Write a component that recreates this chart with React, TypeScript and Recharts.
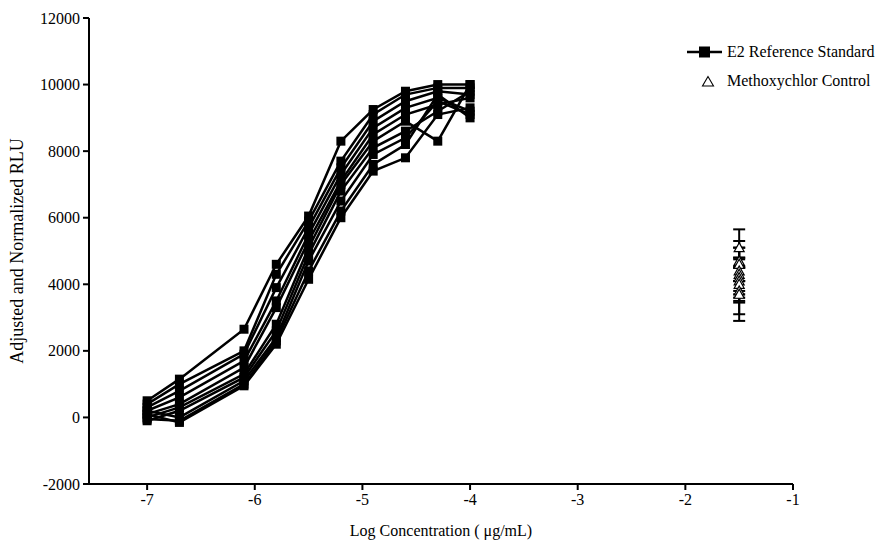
import { ComposedChart, Line, Scatter, ErrorBar, XAxis, YAxis, ZAxis } from 'recharts';

const logConc = [-7, -6.7, -6.1, -5.8, -5.5, -5.2, -4.9, -4.6, -4.3, -4.0];

// E2 reference standard runs (adjusted and normalized RLU)
const e2Run1 = [500, 1150, 2650, 4600, 6050, 8300, 9250, 9800, 10000, 10000];
const e2Run2 = [400, 1000, 2000, 4300, 5900, 7700, 9100, 9700, 9900, 9900];
const e2Run3 = [300, 800, 1900, 3900, 5700, 7500, 8900, 9500, 9800, 9700];
const e2Run4 = [200, 600, 1700, 3500, 5500, 7300, 8700, 9300, 9600, 9200];
const e2Run5 = [100, 400, 1500, 3300, 5300, 7100, 8500, 9100, 9400, 9600];
const e2Run6 = [0, 300, 1300, 2800, 5100, 7000, 8300, 8900, 8300, 10000];
const e2Run7 = [-100, 200, 1200, 2600, 4900, 6800, 8100, 8600, 9200, 9800];
const e2Run8 = [200, 0, 1100, 2400, 4700, 6500, 7900, 8400, 9500, 9100];
const e2Run9 = [-50, -100, 1000, 2300, 4400, 6200, 7600, 8200, 9700, 9000];
const e2Run10 = [100, -150, 950, 2200, 4150, 6000, 7400, 7800, 9100, 9300];

const e2Runs = [e2Run1, e2Run2, e2Run3, e2Run4, e2Run5, e2Run6, e2Run7, e2Run8, e2Run9, e2Run10];

const methoxyConc = -1.5;
const methoxyMeans = [5100, 4700, 4600, 4400, 4300, 4200, 4100, 4000, 3800, 3700];
const methoxyErrors = [550, 600, 500, 700, 500, 600, 650, 500, 700, 800];

const xTicks = [-7, -6, -5, -4, -3, -2, -1];
const yTicks = [-2000, 0, 2000, 4000, 6000, 8000, 10000, 12000];

const rows = logConc.map((x, i) => {
  const row: Record<string, number> = { x };
  e2Runs.forEach((run, r) => {
    row[`run${r}`] = run[i];
  });
  return row;
});

const methoxyData = methoxyMeans.map((y, i) => ({ x: methoxyConc, y, err: methoxyErrors[i] }));

const font = '"Liberation Serif", serif';

const xTick = (props: any) => {
  const { x, y, payload } = props;
  return (
    <text x={x} y={y + 13} textAnchor="middle" fill="#000" style={{ fontFamily: font, fontSize: 16 }}>
      {payload.value}
    </text>
  );
};

const yTick = (props: any) => {
  const { x, y, payload } = props;
  return (
    <text x={x - 1} y={y + 5.5} textAnchor="end" fill="#000" style={{ fontFamily: font, fontSize: 16 }}>
      {payload.value}
    </text>
  );
};

const squareDot = (props: any) => {
  const { cx, cy, index, dataKey } = props;
  if (cx == null || cy == null) return null;
  return <rect key={`${dataKey}-${index}`} x={cx - 4.5} y={cy - 4.5} width={9} height={9} fill="#000" />;
};

const triangle = (props: any) => {
  const { cx, cy } = props;
  return (
    <polygon
      points={`${cx},${cy - 5} ${cx - 5},${cy + 4} ${cx + 5},${cy + 4}`}
      fill="#fff"
      stroke="#000"
      strokeWidth={1.2}
    />
  );
};

function LegendBox() {
  return (
    <div
      style={{
        position: 'absolute',
        left: 686,
        top: 37,
        fontFamily: font,
        fontSize: 16,
        color: '#000',
        lineHeight: '29px',
        whiteSpace: 'nowrap',
      }}
    >
      <div style={{ display: 'flex', alignItems: 'center' }}>
        <svg width={37} height={12} style={{ marginRight: 4 }}>
          <line x1={1} y1={6} x2={36} y2={6} stroke="#000" strokeWidth={2.5} />
          <rect x={13} y={0.5} width={11} height={11} fill="#000" />
        </svg>
        <span>E2 Reference Standard</span>
      </div>
      <div style={{ display: 'flex', alignItems: 'center' }}>
        <svg width={37} height={12} style={{ marginRight: 4 }}>
          <polygon points="22,1.5 16.5,11 27.5,11" fill="#fff" stroke="#000" strokeWidth={1.1} />
        </svg>
        <span>Methoxychlor Control</span>
      </div>
    </div>
  );
}

export default function App() {
  return (
    <div
      style={{
        position: 'absolute',
        left: 0,
        top: 0,
        width: 880,
        height: 541,
        background: '#fff',
        fontFamily: font,
      }}
    >
      <ComposedChart
        width={880}
        height={541}
        data={rows}
        margin={{ top: 18, right: 87, left: 0, bottom: 0 }}
      >
        <XAxis
          type="number"
          dataKey="x"
          domain={[-7.54, -1]}
          ticks={xTicks}
          height={57}
          stroke="#000"
          strokeWidth={2}
          tickSize={6}
          tick={xTick}
          allowDataOverflow
          label={{
            content: () => (
              <text
                x={441}
                y={536}
                textAnchor="middle"
                style={{ fontFamily: font, fontSize: 16 }}
                fill="#000"
              >
                Log Concentration ( μg/mL)
              </text>
            ),
          }}
        />
        <YAxis
          type="number"
          domain={[-2000, 12000]}
          ticks={yTicks}
          width={89}
          stroke="#000"
          strokeWidth={2}
          tickSize={6}
          tick={yTick}
          label={{
            content: () => (
              <text
                x={17}
                y={251}
                transform="rotate(-90 17 251)"
                textAnchor="middle"
                dominantBaseline="central"
                style={{ fontFamily: font, fontSize: 18 }}
                fill="#000"
              >
                Adjusted and Normalized RLU
              </text>
            ),
          }}
        />
        <ZAxis range={[50, 50]} />
        {e2Runs.map((_, r) => (
          <Line
            key={r}
            type="linear"
            dataKey={`run${r}`}
            stroke="#000"
            strokeWidth={2.5}
            dot={squareDot}
            activeDot={false}
            isAnimationActive={false}
            legendType="none"
          />
        ))}
        <Scatter data={methoxyData} dataKey="y" shape={triangle} isAnimationActive={false}>
          <ErrorBar dataKey="err" direction="y" width={6} stroke="#000" strokeWidth={2} />
        </Scatter>
      </ComposedChart>
      <LegendBox />
    </div>
  );
}
